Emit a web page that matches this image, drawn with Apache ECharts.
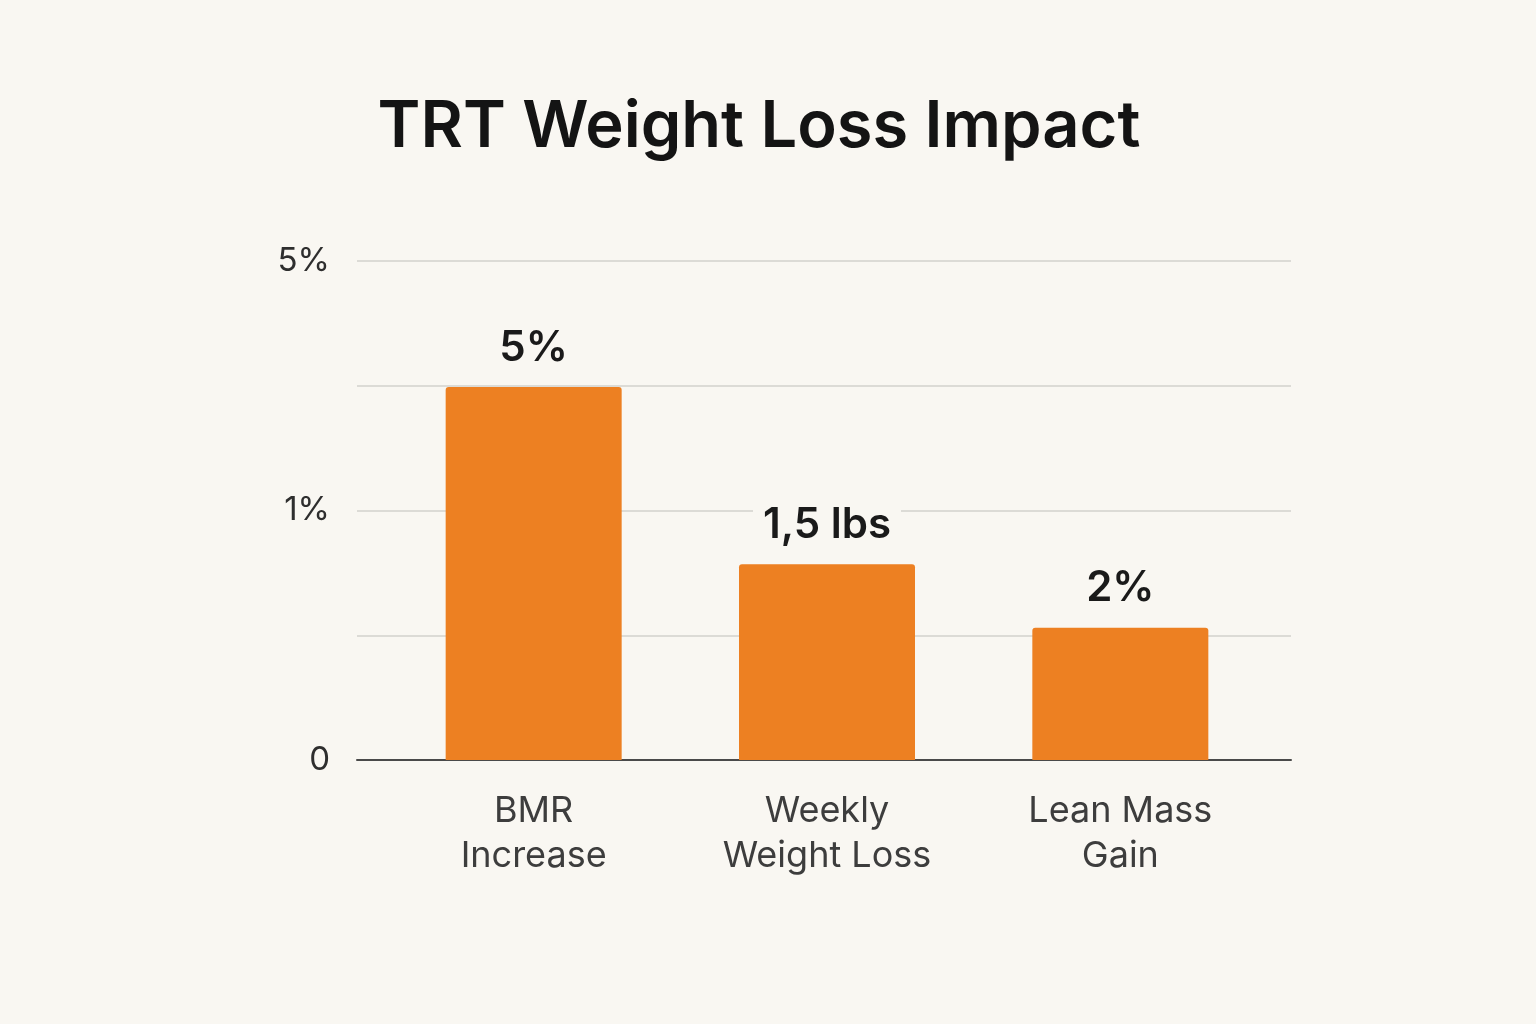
<!DOCTYPE html>
<html>
<head>
<meta charset="utf-8">
<script src="https://cdn.jsdelivr.net/npm/echarts@6/dist/echarts.min.js"></script>
<style>
html,body{margin:0;padding:0;background:#f9f7f2;}
#c{width:1536px;height:1024px;}
</style>
</head>
<body>
<div id="c"></div>
<script>
const title = "TRT Weight Loss Impact";
const categories = ["BMR\nIncrease", "Weekly\nWeight Loss", "Lean Mass\nGain"];
const barValues = [2.99, 1.57, 1.06];
const barLabels = ["5%", "1,5 lbs", "2%"];
const yTickLabels = ["0", "", "1%", "", "5%"];

const chart = echarts.init(document.getElementById('c'), null, {renderer: 'canvas'});
const FONT = 'Inter, "Noto Sans", sans-serif';
const option = {
  backgroundColor: '#f9f7f2',
  animation: false,
  title: {
    text: title,
    left: 754, top: 90, textAlign: 'center',
    textStyle: {fontFamily: FONT, fontSize: 65, fontWeight: 600, color: '#141414'}
  },
  grid: [
    {left: 357, right: 245, top: 261, bottom: 264},
    {left: 387, right: 269, top: 261, bottom: 264}
  ],
  xAxis: [
    {gridIndex: 0, type: 'category', data: ['a'], axisLine: {show: true, lineStyle: {color: '#4a4a4a', width: 2}},
     axisTick: {show: false}, axisLabel: {show: false}},
    {gridIndex: 1, type: 'category', data: categories,
     axisLine: {show: false}, axisTick: {show: false},
     axisLabel: {margin: 29, fontFamily: FONT, fontSize: 36, lineHeight: 45, color: '#3d3d3d'}}
  ],
  yAxis: [
    {gridIndex: 0, type: 'value', min: 0, max: 4, interval: 1,
     axisLine: {show: false}, axisTick: {show: false},
     axisLabel: {margin: 27, fontFamily: FONT, fontSize: 33, color: '#2e2e2e', padding: [6, 0, 0, 0],
       formatter: (v) => yTickLabels[Math.round(v)] ?? ''},
     splitLine: {show: true, lineStyle: {color: '#dcdbd6', width: 2}}},
    {gridIndex: 1, type: 'value', min: 0, max: 4, interval: 1,
     axisLine: {show: false}, axisTick: {show: false}, axisLabel: {show: false}, splitLine: {show: false}}
  ],
  series: [{
    type: 'bar', xAxisIndex: 1, yAxisIndex: 1,
    data: barValues, barWidth: 176,
    itemStyle: {color: '#ed8022', borderRadius: [3, 3, 0, 0]},
    label: {show: true, position: 'top', distance: 18,
      formatter: (p) => barLabels[p.dataIndex],
      fontFamily: FONT, fontSize: 42, fontWeight: 600, color: '#1a1a1a',
      backgroundColor: '#f9f7f2', padding: [0, 10]}
  }]
};
chart.setOption(option);
</script>
</body>
</html>
